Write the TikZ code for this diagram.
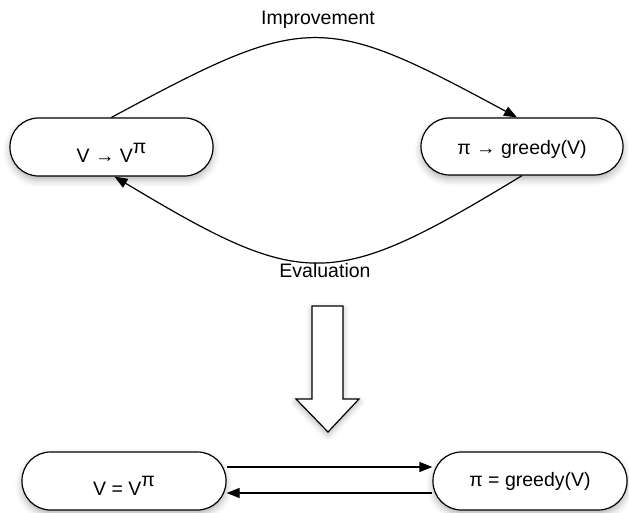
\documentclass[tikz,border=0pt]{standalone}
\usepackage{fontspec}
\setmainfont{Liberation Sans}
\usetikzlibrary{arrows.meta,shadows.blur,calc}
\newcommand{\lowered}[2]{\raisebox{-#1}[0pt][0pt]{#2}}
\newcommand{\suppi}{\raisebox{9pt}{π}}
\begin{document}
\begin{tikzpicture}[x=1pt,y=-1pt,
  every node/.style={font=\fontsize{19.5}{22}\selectfont},
  pill/.style={draw=black, line width=1.2pt, fill=white, rounded corners=28.5pt,
    inner sep=0pt,
    blur shadow={shadow xshift=0pt, shadow yshift=-4pt, shadow blur radius=7pt, shadow opacity=30}},
  arr/.style={line width=1.2pt, -{Triangle[length=13pt,width=10pt]}},
  lbl/.style={inner sep=0pt}
]
\useasboundingbox (0,0) rectangle (629,513);
\node[pill, minimum width=203pt, minimum height=58pt] (tl) at (111.5,147) {\lowered{16pt}{V → V\suppi}};
\node[pill, minimum width=202pt, minimum height=57pt] (tr) at (522,146.5) {\lowered{8pt}{π → greedy(V)}};
\node[pill, minimum width=204pt, minimum height=58pt] (bl) at (124,481) {\lowered{14pt}{V = V\suppi}};
\node[pill, minimum width=194pt, minimum height=58pt] (br) at (530,481) {\lowered{5pt}{π = greedy(V)}};
\node[lbl] (imp) at (318,19.5) {Improvement};
\node[lbl] (eva) at (325,271) {Evaluation};
\draw[arr] (tl.north) .. controls (307,12) and (322,12) .. ([xshift=-5pt]tr.north);
\draw[arr] (tr.south) .. controls (332,291) and (305,291) .. ([xshift=3pt]tl.south);
\draw[arr] ([yshift=14pt]bl.east) -- ([yshift=14pt]bl.east -| br.west);
\draw[arr] ([yshift=-12pt]br.west) -- ([yshift=-12pt]br.west -| bl.east);
\draw[line width=1.2pt, fill=white,
  blur shadow={shadow xshift=0pt, shadow yshift=-3pt, shadow blur radius=6pt, shadow opacity=30}]
  (312,306) -- (343,306) -- (343,399) -- (359,399) -- (328,432) -- (296,399) -- (312,399) -- cycle;
\end{tikzpicture}
\end{document}
